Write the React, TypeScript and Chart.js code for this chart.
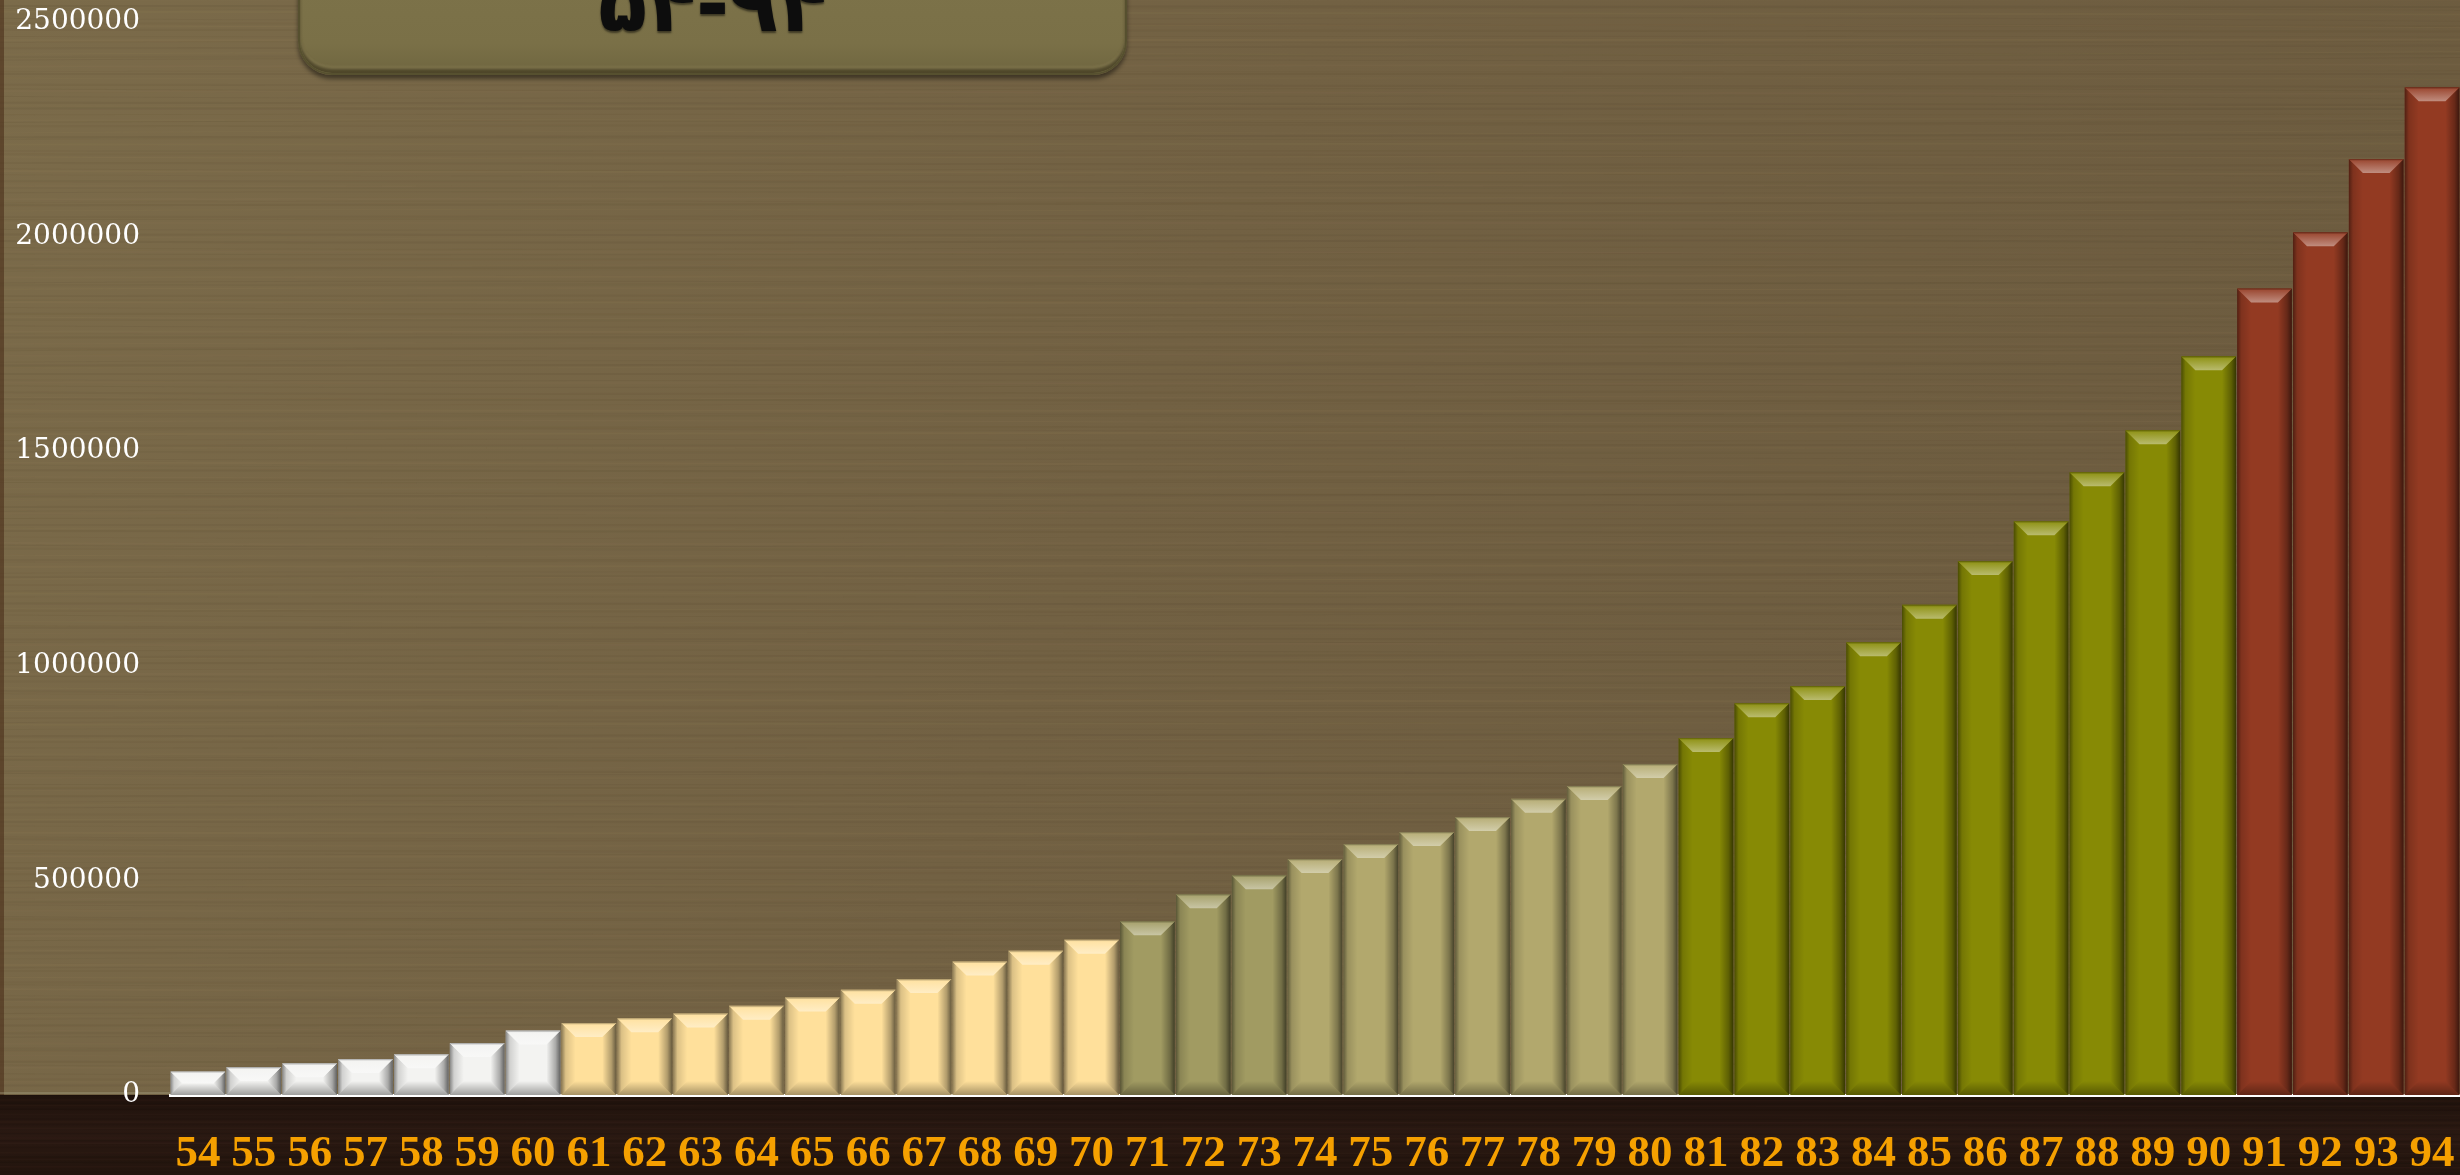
import React, { useEffect, useRef } from "react";
import { Chart, registerables } from "chart.js";

Chart.register(...registerables);

// ---------- data ----------
const categories = [
  "54", "55", "56", "57", "58", "59", "60",
  "61", "62", "63", "64", "65", "66", "67", "68", "69", "70",
  "71", "72", "73", "74", "75", "76", "77", "78", "79", "80",
  "81", "82", "83", "84", "85", "86", "87", "88", "89", "90",
  "91", "92", "93", "94",
];

const values = [
  55000, 65000, 74000, 84000, 95000, 121000, 150000,
  168000, 179000, 190000, 208000, 227000, 245000, 270000, 311000, 336000, 362000,
  405000, 468000, 512000, 550000, 585000, 613000, 648000, 690000, 720000, 771000,
  832000, 913000, 953000, 1055000, 1142000, 1244000, 1337000, 1451000, 1549000, 1721000,
  1879000, 2010000, 2181000, 2348000,
];

const yTicks = [0, 500000, 1000000, 1500000, 2000000, 2500000];

// first category of each colour group
const groupStarts = ["54", "61", "71", "74", "81", "91"];

const titleText = "۵۴-۹۴";

// ---------- styles ----------
const groupColors = ["#f3f3f1", "#ffe09b", "#a19b62", "#b2a86d", "#878a05", "#933a22"];

const barColors = categories.map((c) => {
  let g = 0;
  groupStarts.forEach((s, i) => {
    if (Number(c) >= Number(s)) g = i;
  });
  return groupColors[g];
});

function hexToRgb(h: string): [number, number, number] {
  const n = parseInt(h.slice(1), 16);
  return [(n >> 16) & 255, (n >> 8) & 255, n & 255];
}
function mix(h: string, target: [number, number, number], t: number) {
  const c = hexToRgb(h);
  const r = c.map((v, i) => Math.round(v + (target[i] - v) * t));
  return `rgb(${r[0]},${r[1]},${r[2]})`;
}
const WHITE: [number, number, number] = [255, 255, 255];
const BLACK: [number, number, number] = [0, 0, 0];

function drawBevel(ctx: CanvasRenderingContext2D, l: number, r: number, t: number, btm: number, color: string) {
  const w = r - l;
  const h = btm - t;
  if (h <= 1) return;
  const b = Math.max(1, Math.min(14, w / 2 - 1, h / 2));
  ctx.save();
  // left side
  ctx.beginPath();
  ctx.moveTo(l, t);
  ctx.lineTo(l + b, t + b);
  ctx.lineTo(l + b, btm - b);
  ctx.lineTo(l, btm);
  ctx.closePath();
  let g = ctx.createLinearGradient(l, 0, l + b, 0);
  g.addColorStop(0, "rgba(0,0,0,0.45)");
  g.addColorStop(0.3, "rgba(0,0,0,0.14)");
  g.addColorStop(1, "rgba(0,0,0,0)");
  ctx.fillStyle = g;
  ctx.fill();
  // right side
  ctx.beginPath();
  ctx.moveTo(r, t);
  ctx.lineTo(r - b, t + b);
  ctx.lineTo(r - b, btm - b);
  ctx.lineTo(r, btm);
  ctx.closePath();
  g = ctx.createLinearGradient(r, 0, r - b, 0);
  g.addColorStop(0, "rgba(0,0,0,0.6)");
  g.addColorStop(0.35, "rgba(0,0,0,0.3)");
  g.addColorStop(1, "rgba(0,0,0,0)");
  ctx.fillStyle = g;
  ctx.fill();
  // bottom
  ctx.beginPath();
  ctx.moveTo(l, btm);
  ctx.lineTo(l + b, btm - b);
  ctx.lineTo(r - b, btm - b);
  ctx.lineTo(r, btm);
  ctx.closePath();
  g = ctx.createLinearGradient(0, btm, 0, btm - b);
  g.addColorStop(0, "rgba(0,0,0,0.35)");
  g.addColorStop(1, "rgba(0,0,0,0)");
  ctx.fillStyle = g;
  ctx.fill();
  // top
  ctx.beginPath();
  ctx.moveTo(l, t);
  ctx.lineTo(r, t);
  ctx.lineTo(r - b, t + b);
  ctx.lineTo(l + b, t + b);
  ctx.closePath();
  g = ctx.createLinearGradient(0, t, 0, t + b);
  g.addColorStop(0, mix(color, BLACK, 0.35));
  g.addColorStop(0.14, mix(color, WHITE, 0.1));
  g.addColorStop(1, mix(color, WHITE, 0.42));
  ctx.fillStyle = g;
  ctx.fill();
  ctx.restore();
}

const backgroundPlugin = {
  id: "woodBackground",
  beforeDraw(chart: any) {
    const { ctx, width, height, chartArea } = chart;
    const yb = chartArea.bottom;
    ctx.save();
    // upper wood
    let g = ctx.createLinearGradient(0, 0, width, yb);
    g.addColorStop(0, "#7b6b4a");
    g.addColorStop(0.45, "#726143");
    g.addColorStop(1, "#6b5a3e");
    ctx.fillStyle = g;
    ctx.fillRect(0, 0, width, yb);
    // subtle grain
    for (let i = 0; i < 250; i++) {
      const y0 = i * 4.4 + 1.5 * Math.sin(i * 1.7);
      const light = i % 3 === 0;
      const a = 0.04 + 0.04 * (0.5 + 0.5 * Math.sin(i * 2.3));
      ctx.strokeStyle = light ? `rgba(175,150,105,${a})` : `rgba(60,45,25,${a})`;
      ctx.lineWidth = 1 + (i % 2);
      ctx.beginPath();
      ctx.moveTo(0, y0);
      const amp = 6 * Math.sin(i * 0.37);
      ctx.bezierCurveTo(width * 0.3, y0 + amp, width * 0.6, y0 - amp, width, y0 + amp * 0.5);
      ctx.stroke();
    }
    // dark left edge
    ctx.fillStyle = "rgba(70,40,20,0.55)";
    ctx.fillRect(0, 0, 4, yb);
    // dark lower band
    g = ctx.createLinearGradient(0, yb, 0, height);
    g.addColorStop(0, "#1f120c");
    g.addColorStop(0.5, "#2a1912");
    g.addColorStop(1, "#22140d");
    ctx.fillStyle = g;
    ctx.fillRect(0, yb, width, height - yb);
    for (let i = 0; i < 22; i++) {
      const y0 = yb + i * 3.8 + 1.2 * Math.sin(i * 1.3);
      const a = 0.06 + 0.05 * (0.5 + 0.5 * Math.sin(i * 2.1));
      ctx.strokeStyle = i % 2 ? `rgba(90,60,45,${a})` : `rgba(0,0,0,${a})`;
      ctx.lineWidth = 1.5;
      ctx.beginPath();
      ctx.moveTo(0, y0);
      ctx.bezierCurveTo(width * 0.35, y0 + 2, width * 0.7, y0 - 2, width, y0 + 1);
      ctx.stroke();
    }
    ctx.fillStyle = "rgba(170,165,135,0.35)";
    ctx.fillRect(0, yb - 3, chartArea.left, 2);
    ctx.restore();
  },
};

const bevelPlugin = {
  id: "bevelBars",
  afterDatasetsDraw(chart: any) {
    const { ctx } = chart;
    const meta = chart.getDatasetMeta(0);
    meta.data.forEach((bar: any, i: number) => {
      const p = bar.getProps(["x", "y", "base", "width"], true);
      const l = p.x - p.width / 2;
      const r = p.x + p.width / 2;
      drawBevel(ctx, l, r, Math.min(p.y, p.base), Math.max(p.y, p.base), barColors[i]);
    });
  },
};

export default function App() {
  const ref = useRef<HTMLCanvasElement | null>(null);

  useEffect(() => {
    if (!ref.current) return;
    const chart = new Chart(ref.current, {
      type: "bar",
      data: {
        labels: categories,
        datasets: [
          {
            data: values,
            backgroundColor: barColors,
            borderWidth: 0,
            barPercentage: 0.98,
            categoryPercentage: 1,
          },
        ],
      },
      options: {
        responsive: false,
        animation: false,
        devicePixelRatio: 1,
        layout: { padding: { top: 22, left: 0, right: 0, bottom: 0 } },
        plugins: {
          legend: { display: false },
          tooltip: { enabled: false },
          title: { display: false },
        },
        scales: {
          x: {
            type: "category",
            offset: true,
            grid: { display: false, drawTicks: false },
            border: { display: true, color: "#ffffff", width: 3 },
            ticks: {
              color: "#f5a000",
              font: { family: "'Liberation Serif', serif", size: 45, weight: "bold" },
              padding: 32,
              maxRotation: 0,
              minRotation: 0,
              autoSkip: false,
            },
            afterFit: (s: any) => {
              s.height = 80;
              s.paddingLeft = 0;
              s.paddingRight = 0;
            },
          },
          y: {
            min: 0,
            max: 2500000,
            grid: { display: false, drawTicks: false },
            border: { display: false },
            ticks: {
              color: "#ffffff",
              font: { family: "'DejaVu Serif', serif", size: 28 },
              padding: 30,
              callback: (v: any) => String(v),
            },
            afterBuildTicks: (s: any) => {
              s.ticks = yTicks.map((v) => ({ value: v }));
            },
            afterFit: (s: any) => {
              s.width = 170;
              s.paddingTop = 0;
              s.paddingBottom = 0;
            },
          },
        },
      },
      plugins: [backgroundPlugin, bevelPlugin],
    } as any);
    return () => chart.destroy();
  }, []);

  return (
    <div
      style={{
        position: "fixed",
        left: 0,
        top: 0,
        width: 2460,
        height: 1175,
        overflow: "hidden",
        background: "#6f5e41",
      }}
    >
      <canvas ref={ref} width={2460} height={1175} style={{ display: "block", width: 2460, height: 1175 }} />
      <div
        style={{
          position: "absolute",
          left: 298,
          top: -75,
          width: 829,
          height: 150,
          boxSizing: "border-box",
          borderRadius: 34,
          background: "linear-gradient(180deg, #7e744b 0%, #7a7047 80%, #6f6640 100%)",
          border: "2px solid #56502f",
          boxShadow: "0 4px 4px rgba(0,0,0,0.45), inset 0 -4px 3px rgba(40,35,15,0.55), inset 0 -7px 2px rgba(200,190,140,0.15)",
        }}
      >
        <div
          style={{
            position: "absolute",
            left: 0,
            right: 0,
            top: 37,
            textAlign: "center",
            fontFamily: "'DejaVu Sans', sans-serif",
            fontWeight: "bold",
            fontSize: 80,
            lineHeight: "80px",
            color: "#0d0d0d",
            textShadow: "0 2px 2px rgba(0,0,0,0.5)",
            whiteSpace: "nowrap",
          }}
        >
          {titleText}
        </div>
      </div>
    </div>
  );
}
